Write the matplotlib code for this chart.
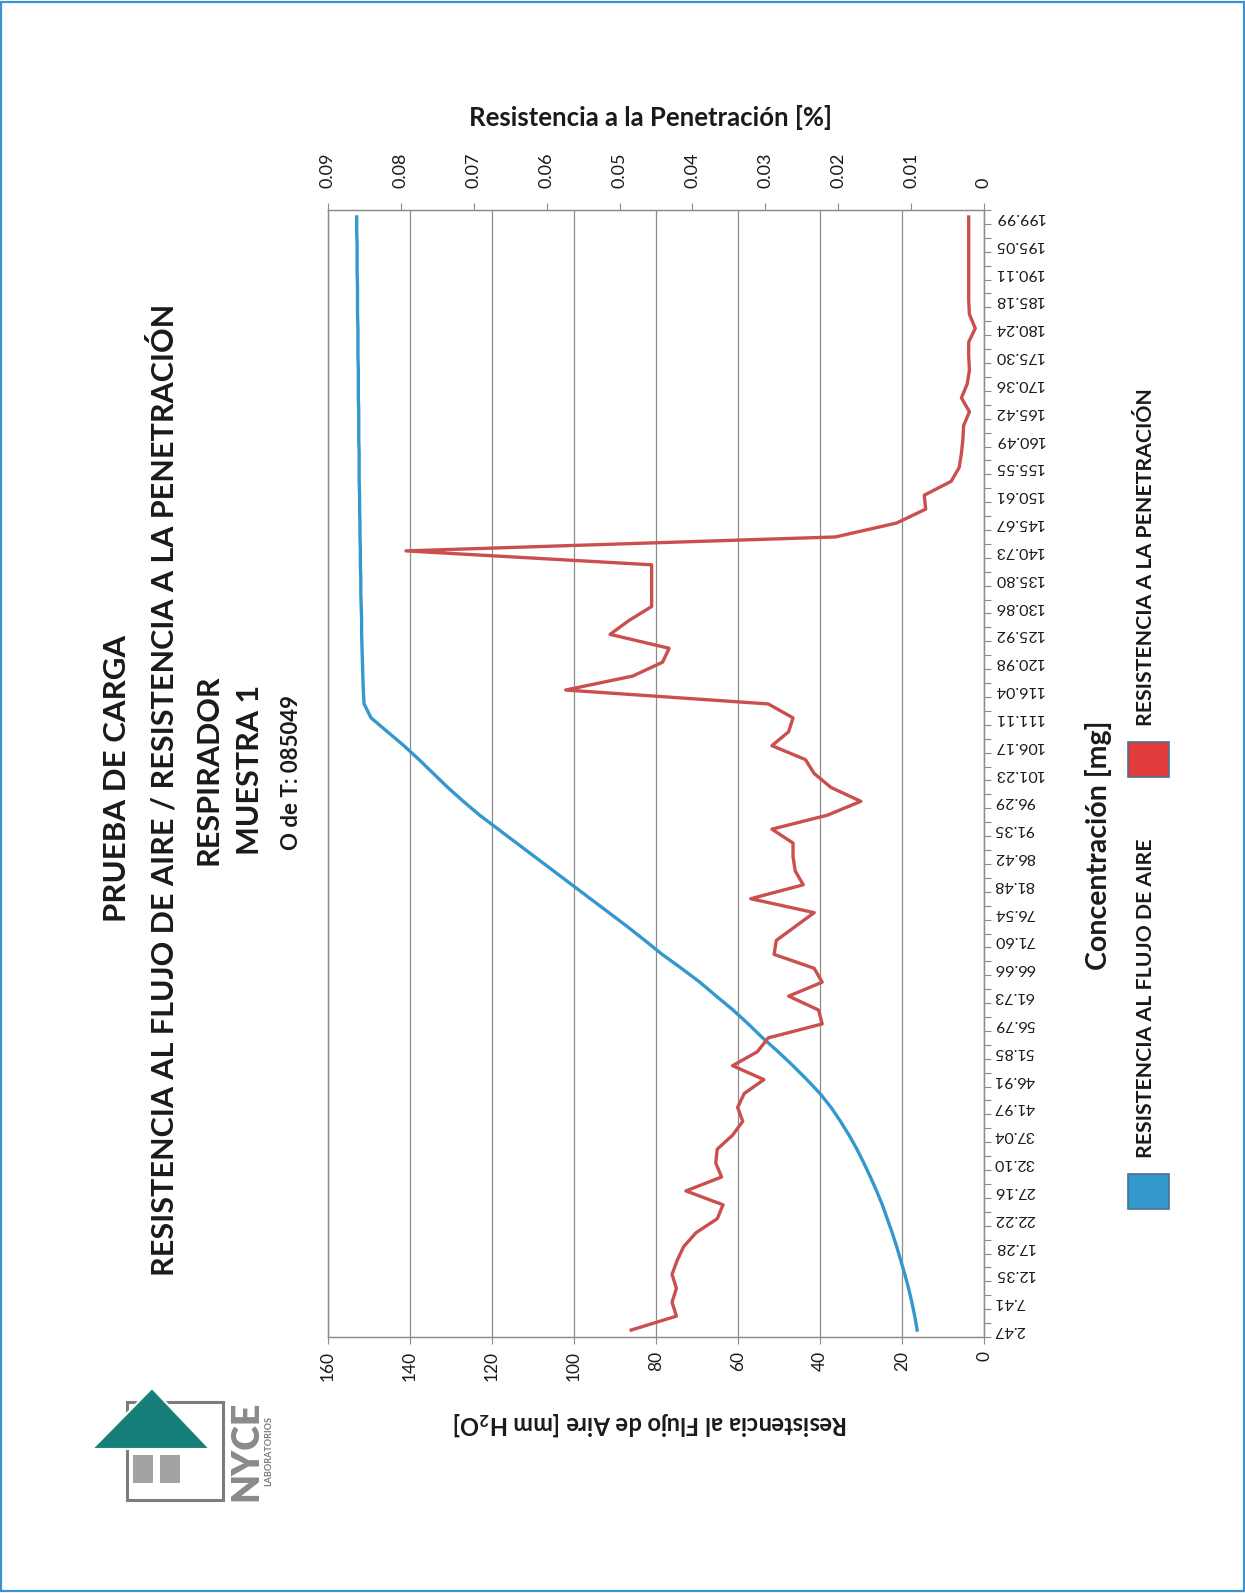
import matplotlib
matplotlib.use('Agg')
import matplotlib.pyplot as plt
from matplotlib.patches import Rectangle, Polygon
import numpy as np

plt.rcParams['font.family'] = ['Lato', 'DejaVu Sans']
plt.rcParams['mathtext.default'] = 'regular'

W, H = 1245, 1593

# ---- data ----
category_labels = ['2.47', '7.41', '12.35', '17.28', '22.22', '27.16', '32.10', '37.04',
                   '41.97', '46.91', '51.85', '56.79', '61.73', '66.66', '71.60', '76.54',
                   '81.48', '86.42', '91.35', '96.29', '101.23', '106.17', '111.11', '116.04',
                   '120.98', '125.92', '130.86', '135.80', '140.73', '145.67', '150.61', '155.55',
                   '160.49', '165.42', '170.36', '175.30', '180.24', '185.18', '190.11', '195.05',
                   '199.99']

# Resistencia al flujo de aire [mm H2O] (left axis), 81 points
resistencia_flujo = [16.3, 16.9, 17.6, 18.4, 19.3, 20.3, 21.3, 22.4, 23.6, 24.8,
                     26.2, 27.7, 29.3, 31.0, 32.9, 35.0, 37.3, 40.0, 43.2, 46.6,
                     50.2, 54.0, 57.5, 61.2, 65.3, 69.3, 73.8, 78.5, 82.7, 87.0,
                     91.5, 96.0, 100.5, 105.0, 109.5, 114.0, 118.5, 123.0, 127.0, 130.8,
                     134.3, 137.8, 141.5, 145.5, 149.5, 151.2, 151.4, 151.5, 151.6, 151.7,
                     151.8, 151.8, 151.9, 152.0, 152.0, 152.1, 152.1, 152.2, 152.2, 152.3,
                     152.3, 152.4, 152.4, 152.4, 152.5, 152.5, 152.5, 152.6, 152.6, 152.6,
                     152.7, 152.7, 152.7, 152.8, 152.8, 152.8, 152.9, 152.9, 152.9, 153.0,
                     153.0]

# Resistencia a la penetración [%] (right axis), 81 points
resistencia_penetracion = [0.0484, 0.0422, 0.0428, 0.0422, 0.0428, 0.0421, 0.0412, 0.0395, 0.0366, 0.0358,
                           0.0409, 0.0360, 0.0368, 0.0366, 0.0345, 0.0331, 0.0338, 0.0329, 0.0302, 0.0345,
                           0.0311, 0.0296, 0.0222, 0.0227, 0.0268, 0.0222, 0.0233, 0.0288, 0.0285, 0.0259,
                           0.0233, 0.0320, 0.0248, 0.0259, 0.0262, 0.0262, 0.0291, 0.0215, 0.0169, 0.0210,
                           0.0233, 0.0245, 0.0291, 0.0268, 0.0262, 0.0296, 0.0574, 0.0482, 0.0441, 0.0432,
                           0.0513, 0.0487, 0.0456, 0.0456, 0.0456, 0.0456, 0.0793, 0.0204, 0.0120, 0.0080,
                           0.0082, 0.0045, 0.0034, 0.0031, 0.0029, 0.0028, 0.0020, 0.0031, 0.0023, 0.0020,
                           0.0021, 0.0021, 0.0012, 0.0020, 0.0021, 0.0021, 0.0021, 0.0021, 0.0021, 0.0021,
                           0.0021]

left_ticks = [0, 20, 40, 60, 80, 100, 120, 140, 160]
right_ticks = [0, 0.01, 0.02, 0.03, 0.04, 0.05, 0.06, 0.07, 0.08, 0.09]
right_tick_labels = ['0', '0.01', '0.02', '0.03', '0.04', '0.05', '0.06', '0.07', '0.08', '0.09']

BLUE = '#3399cc'
RED = '#c9504f'
GRID = '#8c8c8c'
TXT = '#1a1a1a'

fig = plt.figure(figsize=(W / 100, H / 100), dpi=100)


def fx(x):
    return x / W


def fy(y):
    return 1 - y / H


# page border
fig.patches.append(Rectangle((0.001, 0.001), 0.998, 0.998, transform=fig.transFigure,
                             fill=False, edgecolor='#3d93d1', lw=1.6))

L, R, T, B = 328, 984, 210, 1337
ax = fig.add_axes([fx(L), fy(B), (R - L) / W, (B - T) / H])
n = len(resistencia_flujo)
pos = np.arange(1, n + 1)

ax.set_xlim(max(left_ticks), 0)
ax.set_ylim(0.5, n + 0.5)
ax.set_xticks(left_ticks)
ax.set_xticklabels([str(v) for v in left_ticks], rotation=90, fontsize=12.5, color=TXT)
ax.grid(axis='x', color=GRID, lw=0.9)
ax.set_axisbelow(True)
ax.plot(resistencia_flujo, pos, color=BLUE, lw=2.4, zorder=3, solid_joinstyle='round')

ax.yaxis.tick_right()
ax.set_yticks(pos[::2])
ax.set_yticklabels(category_labels, rotation=180, va='center', fontsize=11.5, color=TXT)
ax.set_yticks(np.arange(0.5, n + 1, 1), minor=True)
ax.tick_params(axis='y', which='major', length=0, pad=7)
ax.tick_params(axis='y', which='minor', length=5, width=0.8, color=GRID)
ax.tick_params(axis='x', length=5, width=0.8, color=GRID, pad=5)
for s in ax.spines.values():
    s.set_color(GRID)
    s.set_linewidth(0.9)

ax2 = ax.twiny()
ax2.set_xlim(max(right_ticks), 0)
ax2.set_xticks(right_ticks)
ax2.set_xticklabels(right_tick_labels, rotation=90, fontsize=13, color=TXT)
ax2.tick_params(axis='x', length=5, width=0.8, color=GRID, pad=11)
for s in ax2.spines.values():
    s.set_color(GRID)
    s.set_linewidth(0.9)
ax2.plot(resistencia_penetracion, pos, color=RED, lw=2.4, zorder=3, solid_joinstyle='round')

# axis titles
fig.text(fx(650), fy(117), 'Resistencia a la Penetración [%]', ha='center', va='center',
         fontsize=18.5, fontweight='bold', color=TXT)
fig.text(fx(650), fy(1424), 'Resistencia al Flujo de Aire [mm H$_2$O]', ha='center', va='center',
         rotation=180, fontsize=17, fontweight='bold', color=TXT)
fig.text(fx(1098), fy(845), 'Concentración [mg]', ha='center', va='center',
         rotation=90, fontsize=20.5, fontweight='bold', color=TXT)

# title block
title_lines = [
    (117, 778, 'PRUEBA DE CARGA', 22.5),
    (163, 790, 'RESISTENCIA AL FLUJO DE AIRE / RESISTENCIA A LA PENETRACIÓN', 22),
    (209, 770, 'RESPIRADOR', 22),
    (250, 770, 'MUESTRA 1', 22),
    (291, 773, 'O de T: 085049', 16),
]
for x, y, s, fs in title_lines:
    fig.text(fx(x), fy(y), s, rotation=90, ha='center', va='center',
             fontsize=fs, fontweight='bold', color=TXT)

# legend (rotated)
legend_items = [('RESISTENCIA AL FLUJO DE AIRE', BLUE, 1192), ('RESISTENCIA A LA PENETRACIÓN', '#e23b3b', 760)]
for label, col, yc in legend_items:
    fig.patches.append(Rectangle((fx(1128), fy(yc + 17)), 41 / W, 35 / H, transform=fig.transFigure,
                                 facecolor=col, edgecolor='#4d6f8f', lw=1.2))
    fig.text(fx(1146), fy(yc - 34), label, rotation=90, ha='center', va='bottom',
             fontsize=15.3, fontweight='bold', color=TXT)

# logo
fig.patches.append(Rectangle((fx(127), fy(1500)), 96 / W, 98 / H, transform=fig.transFigure,
                             fill=False, edgecolor='#7d7d7d', lw=2.2))
fig.patches.append(Polygon([(fx(152), fy(1388)), (fx(92), fy(1449)), (fx(210), fy(1449))],
                           closed=True, transform=fig.transFigure, facecolor='#167f7a',
                           edgecolor='white', lw=1.5))
for x0 in (133, 160):
    fig.patches.append(Rectangle((fx(x0), fy(1483)), 20 / W, 28 / H, transform=fig.transFigure,
                                 facecolor='#a3a3a3', edgecolor='none'))
fig.text(fx(246), fy(1451), 'NYCE', rotation=90, ha='center', va='center', fontsize=27,
         fontweight='heavy', color='#8a8a8a')
fig.text(fx(269), fy(1451), 'LABORATORIOS', rotation=90, ha='center', va='center', fontsize=6.5,
         fontweight='bold', color='#7a7a7a')

fig.savefig('out.png', dpi=100)
